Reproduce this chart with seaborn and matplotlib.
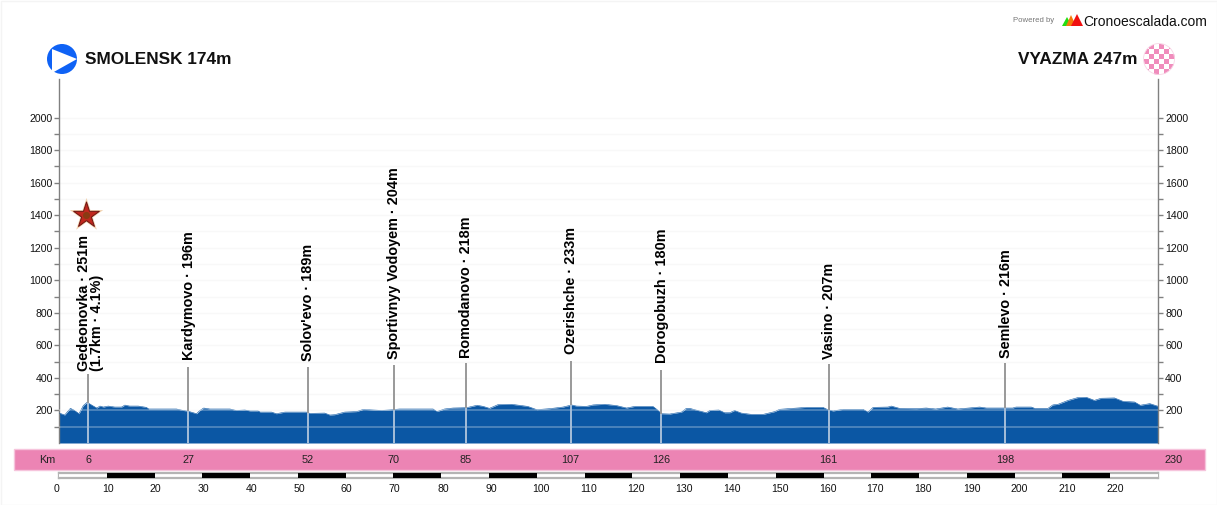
import numpy as np
import pandas as pd
import matplotlib
matplotlib.use("Agg")
import matplotlib.pyplot as plt
from matplotlib.patches import Circle, Polygon, Rectangle
from matplotlib.transforms import ScaledTranslation
import seaborn as sns

profile_km = [0, 1.1, 2.3, 3, 4.1, 5, 5.8, 6.7, 7.8, 8.5, 9.2, 10.2, 11.6, 13, 13.7, 14.7, 16.5, 18.2, 18.7,
              24.5, 25.9, 27, 28.7, 29.4, 30.2, 31.5, 35.7, 37, 38.8, 39.9, 41.6, 42, 44.4, 45.4, 47.2, 51.7,
              52.4, 55.5, 56.6, 57.6, 59.7, 62.2, 63.6, 67.4, 69.8, 71.2, 78.2, 79, 80.6, 82.4, 85.2, 87.4,
              88.7, 90, 91.8, 94.6, 98, 99.9, 102.6, 105.4, 107.2, 108.2, 110.3, 111.7, 114.1, 116.6, 118.7,
              120.4, 124.2, 125.1, 126, 127.7, 130.2, 131.2, 131.9, 133.7, 135.4, 136.1, 138, 139.2, 140.3,
              141.3, 142.7, 144.8, 147.3, 149.7, 150.7, 156.3, 159.8, 160.8, 161.9, 164, 168.2, 169.2, 170.3,
              173.4, 174.1, 175.8, 179.3, 181.4, 183.4, 185.9, 188, 192.6, 194, 199.5, 200.2, 203.4, 204.1,
              206.9, 207.9, 209, 211.1, 213.1, 214.9, 216.6, 218, 220.8, 222.6, 225, 226.2, 228.2, 230]
profile_elev = [184, 172, 213, 203, 180, 230, 250, 234, 215, 227, 221, 227, 221, 221, 233, 227, 227, 219, 209,
                209, 200, 195, 180, 200, 215, 209, 209, 200, 203, 197, 197, 190, 190, 180, 190, 190,
                182, 184, 172, 174, 190, 193, 207, 200, 205, 209, 209, 193, 209, 215, 217, 232,
                225, 213, 236, 238, 225, 205, 211, 221, 234, 227, 225, 234, 238, 230, 215,
                225, 225, 205, 180, 178, 190, 213, 213, 199, 186, 200, 203, 186, 186,
                200, 184, 176, 176, 193, 207, 219, 219, 205, 197, 207, 207, 190, 219,
                221, 227, 213, 211, 215, 209, 221, 209, 221, 215, 215, 221, 221, 213,
                213, 234, 238, 262, 279, 281, 262, 275, 277, 256, 252, 232, 242, 225]

place_km = [6, 27, 52, 70, 85, 107, 126, 161, 198]
place_stem_top = [425, 470, 465, 477, 490, 505, 450, 483, 490]
place_labels = ["Gedeonovka · 251m", "Kardymovo · 196m", "Solov'evo · 189m", "Sportivnyy Vodoyem · 204m",
                "Romodanovo · 218m", "Ozerishche · 233m", "Dorogobuzh · 180m", "Vasino · 207m", "Semlevo · 216m"]
place_label_base = [440, 510, 505, 515, 525, 545, 490, 515, 525]
climb_note = "(1.7km · 4.1%)"
climb_km = [5.5]
climb_elev = [1400]

km_labels = ["6", "27", "52", "70", "85", "107", "126", "161", "198"]
scale_ticks = list(range(0, 230, 10))
elev_major = list(range(200, 2001, 200))
elev_minor = list(range(100, 2000, 200))
start_title = "SMOLENSK 174m"
end_title = "VYAZMA 247m"

W, H = 1217, 505
BLUE = "#0B57A4"
PINK = "#EC84B4"
FONT = ["Liberation Sans", "DejaVu Sans"]

sns.set_theme(style="white")
plt.rcParams["font.family"] = FONT
plt.rcParams["axes.unicode_minus"] = False

fig = plt.figure(figsize=(W / 100, H / 100), dpi=100, facecolor="white")


def box(x0, y0, x1, y1):
    return [x0 / W, 1 - y1 / H, (x1 - x0) / W, (y1 - y0) / H]


# main profile
ax = fig.add_axes(box(59.4, 79, 1158.4, 443))
ax.set_facecolor("none")
ax.set_xlim(0, 230)
ax.set_ylim(0, 364 / 0.1627)
df = pd.DataFrame({"km": profile_km, "elev": profile_elev})
ax.hlines(elev_major + elev_minor, 0, 230, color="#F8F8F8", lw=1, zorder=1)
ax.fill_between(df["km"], 0, df["elev"], color=BLUE, lw=0, zorder=2)
sns.lineplot(data=df, x="km", y="elev", ax=ax, color=BLUE, lw=0.4, zorder=3, errorbar=None, estimator=None)
ax.hlines([100, 200], 0, 230, color="white", alpha=0.28, lw=1.3, zorder=4)
ax.set_xlabel("")
ax.set_ylabel("")
ax.set_xticks([])
ax.set_yticks(elev_major)
ax.set_yticks(elev_minor, minor=True)
ax.tick_params(axis="y", which="both", left=True, right=True, labelleft=True, labelright=True,
               length=3.6, width=1, color="#808080", labelsize=7.6, labelcolor="#111111", pad=1.2)
for s in ("top", "bottom"):
    ax.spines[s].set_visible(False)
for s in ("left", "right"):
    ax.spines[s].set_visible(True)
    ax.spines[s].set_color("#808080")
    ax.spines[s].set_linewidth(1)

elev_at = np.interp(place_km, profile_km, profile_elev)
for km, top_e, base, lab, e in zip(place_km, place_stem_top, place_label_base, place_labels, elev_at):
    ax.plot([km, km], [e, top_e], color="#999999", lw=1.4, zorder=5, solid_capstyle="butt")
    ax.plot([km, km], [0, e], color="#A6BED9", lw=1.4, zorder=5, solid_capstyle="butt")
    dx = -0.9 if km == place_km[0] else 0.1
    ax.text(km + dx, base, lab, rotation=90, ha="center", va="bottom", fontsize=10.4, fontweight="bold",
            color="#000000", zorder=6)
ax.text(place_km[0] + 1.8, place_label_base[0], climb_note, rotation=90, ha="center", va="bottom",
        fontsize=10.4, fontweight="bold", color="#000000", zorder=6)
ax.scatter(climb_km, climb_elev, marker="*", s=640, color="#F2D2B0", linewidths=0, zorder=6)
ax.scatter(climb_km, climb_elev, marker="*", s=380, color="#C0281E", edgecolors="#6B1410", linewidths=0.7, zorder=7)
ax.scatter(climb_km, climb_elev, marker="o", s=26, color="#8A3A12", linewidths=0, zorder=8)

# pink kilometre band
band = fig.add_axes(box(59.4, 448, 1158.4, 469.5))
band.set_xlim(0, 230)
band.set_ylim(0, 1)
band.axis("off")
for km, lab in zip(place_km, km_labels):
    band.text(km, 0.46, lab, ha="center", va="center", fontsize=7.8, color="#222222", clip_on=False, zorder=5)
band.text(230 + 3.1, 0.46, "230", ha="center", va="center", fontsize=7.8, color="#222222", clip_on=False, zorder=5)
band.text(-2.6, 0.46, "Km", ha="center", va="center", fontsize=7.8, color="#222222", clip_on=False, zorder=5)

# distance scale
scale = fig.add_axes(box(59, 473, 1158, 478))
scale.set_xlim(0, 230)
scale.set_ylim(0, 1)
for i, km in enumerate(scale_ticks):
    scale.barh(0.5, 10, left=km, height=1, color="black" if i % 2 else "white", lw=0, zorder=3)
scale.set_yticks([])
scale.set_xticks(scale_ticks)
scale.set_xticklabels([str(k) for k in scale_ticks])
scale.tick_params(axis="x", length=0, labelsize=7.6, labelcolor="#111111", pad=4.5)
for s in scale.spines.values():
    s.set_visible(True)
    s.set_color("#B4B4B4")
    s.set_linewidth(1.6)
    s.set_zorder(1)
scale.set_facecolor("white")
for km, lab in zip(scale_ticks, scale.get_xticklabels()):
    px = -2 if km == 0 else 1 if km < 80 else 2 if km < 100 else 4 if km < 190 else 5
    lab.set_transform(lab.get_transform() + ScaledTranslation(px / 100, 0, fig.dpi_scale_trans))
# keep the grey outline visible over the white segments
for i, km in enumerate(scale_ticks):
    if i % 2 == 0:
        scale.hlines([0.03, 0.97], km, km + 10, color="#B4B4B4", lw=1.6, zorder=4)

# page-level decorations, in pixels
deco = fig.add_axes([0, 0, 1, 1], zorder=-1)
deco.set_xlim(0, W)
deco.set_ylim(H, 0)
deco.axis("off")
deco.add_patch(Rectangle((0.5, 0.5), W - 1, H - 1, fc="white", ec="#F4F4F4", lw=1))
deco.add_patch(Rectangle((13.5, 448.5), 1191, 21, fc=PINK, ec="#F6C4DC", lw=1))

top = fig.add_axes([0, 0, 1, 1], zorder=10)
top.set_xlim(0, W)
top.set_ylim(H, 0)
top.axis("off")
top.patch.set_alpha(0)
top.add_patch(Circle((62, 59), 15, fc="#0F62F5", ec="none"))
top.add_patch(Polygon([[52, 49], [77, 59], [52, 73]], fc="white", ec="none"))
top.text(85, 59, start_title, fontsize=12.4, fontweight="bold", color="#111111", va="center", ha="left")
top.text(1138, 59, end_title, fontsize=12.4, fontweight="bold", color="#111111", va="center", ha="right")

clip = Circle((1159, 59), 15.5, transform=top.transData)
cells = (np.indices((6, 6)).sum(axis=0) % 2).astype(float)
im = top.pcolormesh(np.linspace(1143.5, 1174.5, 7), np.linspace(43.5, 74.5, 7), cells,
                    cmap=matplotlib.colors.ListedColormap(["white", "#F08CBC"]), zorder=3)
im.set_clip_path(clip)
top.add_patch(Circle((1159, 59), 15.5, fc="none", ec="#F8D5E6", lw=0.6, zorder=4))

top.text(1034, 21, "Powered by", fontsize=5.6, color="#777777", ha="center", va="center")
top.add_patch(Polygon([[1062, 26], [1072, 26], [1067, 17]], fc="#22DD11", ec="none", zorder=2))
top.add_patch(Polygon([[1066, 26], [1076, 26], [1071, 15]], fc="#F57A0A", ec="none", zorder=3))
top.add_patch(Polygon([[1071, 26], [1083, 26], [1077, 14]], fc="#F01010", ec="none", zorder=4))
top.text(1083, 22, "Cronoescalada.com", fontsize=10, color="#111111", ha="left", va="center")

fig.savefig("out.png", dpi=100, facecolor="white")
